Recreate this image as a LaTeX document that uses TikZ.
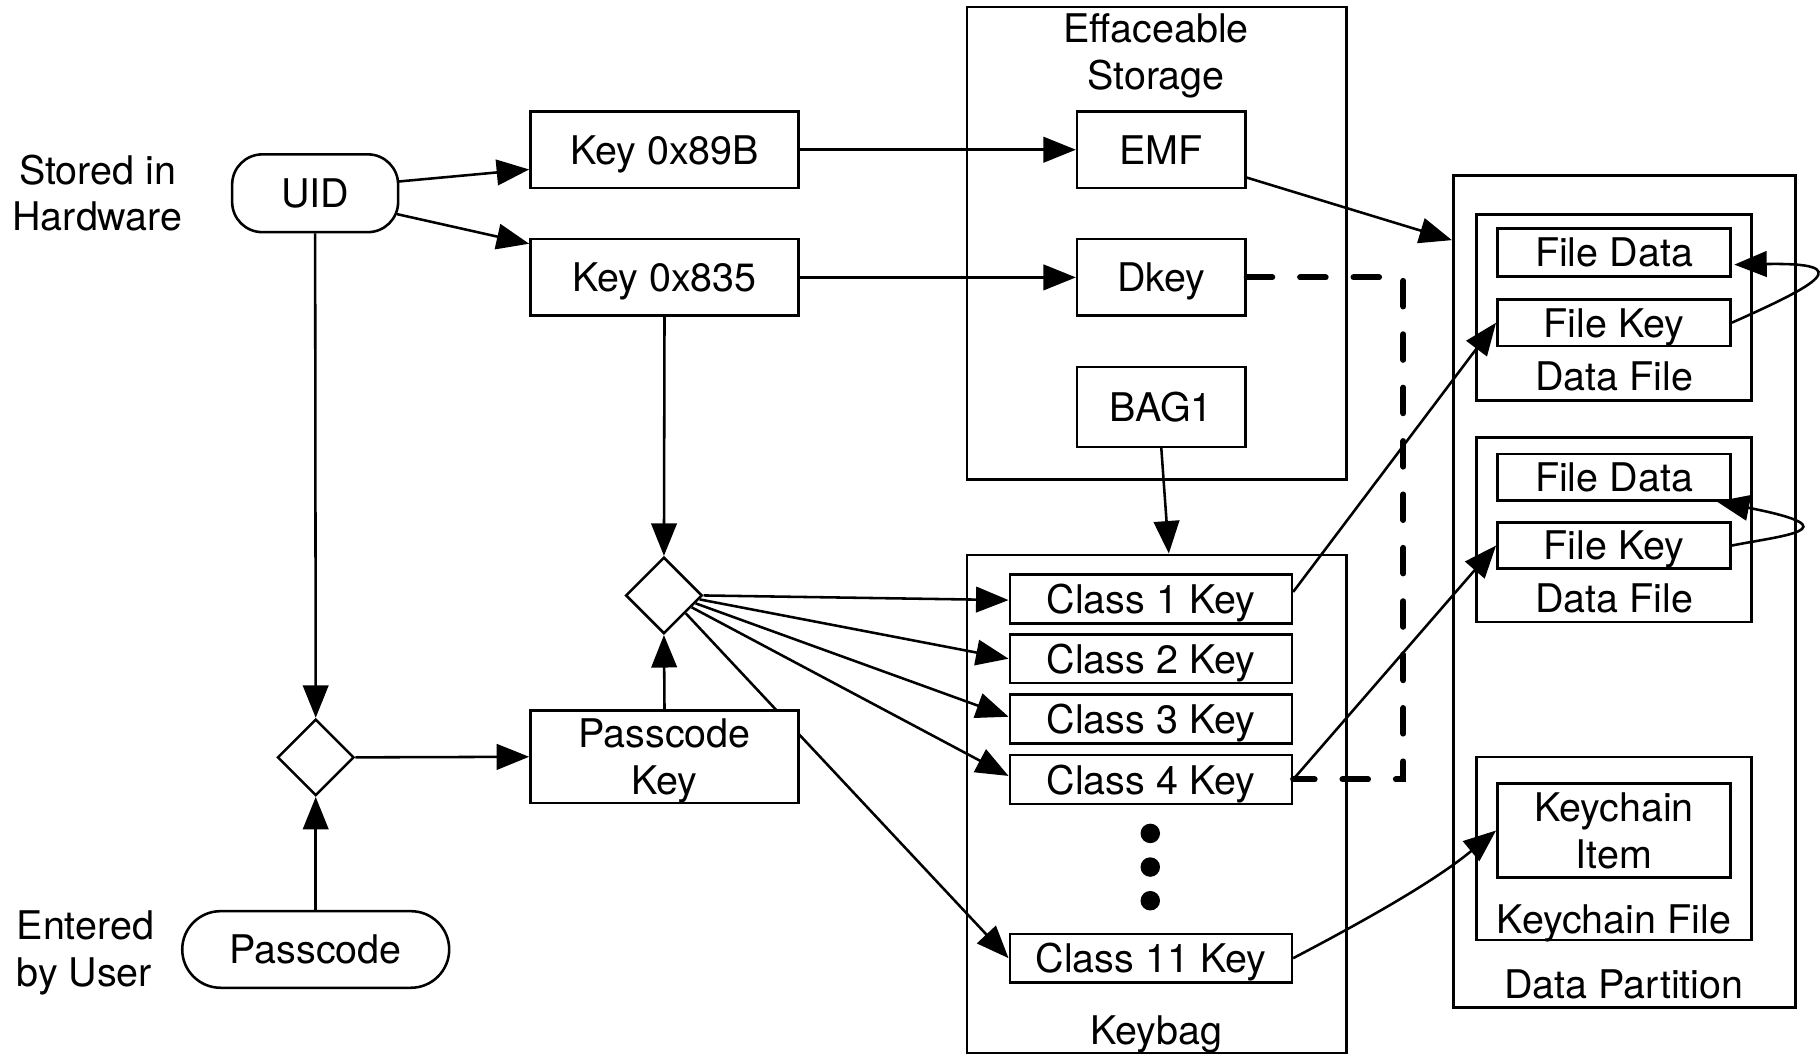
\documentclass[tikz,border=0pt]{standalone}
\usepackage{fontspec}
\setmainfont{TeX Gyre Heros}
\usetikzlibrary{arrows.meta,shapes.geometric,calc}
\pgfdeclarelayer{background}
\pgfsetlayers{background,main}
\begin{document}
\begin{tikzpicture}[x=0.5pt,y=-0.5pt,
  font=\fontsize{17}{20}\selectfont,
  every node/.style={inner sep=0pt, align=center},
  keybox/.style={draw, line width=1.1pt, fill=white, minimum height=33pt, text depth=0pt},
  classbox/.style={draw, line width=1.1pt, fill=white, minimum width=121.5pt, minimum height=21pt, text depth=0pt},
  filebox/.style={draw, line width=1.1pt, fill=white, minimum width=100.5pt, minimum height=20.5pt, text depth=0pt},
  frame/.style={draw, line width=1.1pt},
  term/.style={draw, line width=1.1pt, fill=white},
  gate/.style={draw, line width=1.1pt, fill=white, diamond, aspect=1, minimum width=33pt, minimum height=33pt},
  dot/.style={circle, fill=black, minimum size=8.4pt},
  arr/.style={-{Triangle[length=14pt,width=11pt]}, line width=1.1pt},
  dkline/.style={line width=2.6pt, dash pattern=on 11pt off 12pt, line cap=round}
]
\useasboundingbox (0,0) rectangle (1568,909);

% --- sources ---
\node (stored) at (84,166.5) {Stored in\\Hardware};
\node[term, minimum width=71.5pt, minimum height=33.5pt, rounded corners=13pt] (uid) at (271.5,166.5) {UID};
\node[anchor=west, align=left] (entered) at (14,821) {Entered\\by User};
\node[term, minimum width=115pt, minimum height=33pt, rounded corners=16.5pt] (pass) at (272,818) {Passcode};

% --- derived keys ---
\node[keybox, minimum width=115.5pt] (k89b) at (572.5,129) {Key 0x89B};
\node[keybox, minimum width=115.5pt] (k835) at (572.5,239) {Key 0x835};
\node[gate] (tangle) at (272,652.5) {};
\node[gate] (mix) at (572,513) {};

% --- effaceable storage ---
\node[frame, minimum width=163.5pt, minimum height=203.5pt] (eff) at (996.5,209.5) {};
\node (efftitle) at (996,48) {Effaceable\\Storage};
\node[keybox, minimum width=72.5pt] (emf) at (1000.5,129) {EMF};
\node[keybox, minimum width=72.5pt] (dkey) at (1000.5,239) {Dkey};
\node[keybox, minimum width=72.5pt, minimum height=34.5pt] (bag1) at (1000.5,350.5) {BAG1};

% --- keybag ---
\node[frame, minimum width=163.5pt, minimum height=214.5pt] (keybag) at (996.5,692.5) {};
\node[anchor=base] (keybaglbl) at (996,900) {Keybag};
\node[classbox] (c1) at (991.5,516) {Class 1 Key};
\node[classbox] (c2) at (991.5,567.5) {Class 2 Key};
\node[classbox] (c3) at (991.5,619.5) {Class 3 Key};
\node[classbox] (c4) at (991.5,671.5) {Class 4 Key};
\node[classbox] (c11) at (991.5,825.5) {Class 11 Key};
\node[dot] (dot1) at (991,718) {};
\node[dot] (dot2) at (991,747) {};
\node[dot] (dot3) at (991,776) {};

% --- data partition ---
\node[frame, minimum width=147.5pt, minimum height=358.5pt] (dp) at (1399.5,509.5) {};
\node[anchor=base] (dplbl) at (1399,860) {Data Partition};
\node[frame, minimum width=118.5pt, minimum height=80pt] (df1) at (1390.5,265) {};
\node[anchor=base] (df1lbl) at (1390.5,336) {Data File};
\node[filebox] (fd1) at (1390.5,217.5) {File Data};
\node[filebox, minimum height=20pt] (fk1) at (1390.5,278) {File Key};
\node[frame, minimum width=118.5pt, minimum height=79.5pt] (df2) at (1390.5,456.5) {};
\node[anchor=base] (df2lbl) at (1390.5,528) {Data File};
\node[filebox, minimum height=20pt] (fd2) at (1390.5,411) {File Data};
\node[filebox, minimum height=20pt] (fk2) at (1390.5,470) {File Key};
\node[frame, minimum width=118.5pt, minimum height=79pt] (kcf) at (1390.5,731) {};
\node[anchor=base] (kcflbl) at (1390.5,804) {Keychain File};
\node[filebox, minimum height=40.5pt] (kci) at (1390.5,715.5) {Keychain\\Item};

% --- passcode key sits over the Class 11 connector ---
\begin{pgfonlayer}{background}
  \draw[arr] ($(mix.east)!0.45!(mix.south)$) -- (c11.west);
\end{pgfonlayer}
\node[keybox, minimum width=115.5pt, minimum height=40pt] (pkey) at (572.5,652) {Passcode\\Key};

% --- connectors ---
\draw[arr] ($(uid.east)+(-2,-10)$) -- ($(k89b.west)+(0,17)$);
\draw[arr] ($(uid.east)+(-2,18)$) -- ($(k835.west)+(0,-29)$);
\draw[arr] (uid.south) -- (tangle.north);
\draw[arr] (pass.north) -- (tangle.south);
\draw[arr] (tangle.east) -- (pkey.west);
\draw[arr] (k835.south) -- (mix.north);
\draw[arr] (pkey.north) -- (mix.south);
\draw[arr] (k89b.east) -- (emf.west);
\draw[arr] (k835.east) -- (dkey.west);
\draw[arr] ($(emf.east)+(0,24)$) -- ($(dp.north west)+(0,57)$);
\draw[arr] (bag1.south) -- ($(keybag.north)+(10.5,0)$);

\draw[arr] (mix.east) -- ($(c1.west)+(0,1)$);
\draw[arr] ($(mix.east)!0.1!(mix.south)$) -- (c2.west);
\draw[arr] ($(mix.east)!0.2!(mix.south)$) -- ($(c3.west)+(0,-2)$);
\draw[arr] ($(mix.east)!0.3!(mix.south)$) -- ($(c4.west)+(0,-3)$);

\draw[arr] ($(c1.east)+(0,-6)$) -- (fk1.west);
\draw[arr] (c4.east) -- (fk2.west);
\draw[arr] (c11.east) .. controls ($(c11.east)+(65,-34)$) and ($(kci.west)+(-52,43)$) .. (kci.west);

\draw[dkline] (dkey.east) -| ($(c4.east)+(95,0)$) -- (c4.east);

\draw[arr] (fk1.east) .. controls ($(fk1.east)+(74,-33)$) and ($(fd1.east)+(109,8.5)$) .. ($(fd1.east)+(2,10.5)$);
\draw[arr] (fk2.east) .. controls ($(fk2.east)+(39,-8)$) and ($(fd2.south east)+(109,24)$) .. ($(fd2.south east)+(-13,0)$);
\end{tikzpicture}
\end{document}
